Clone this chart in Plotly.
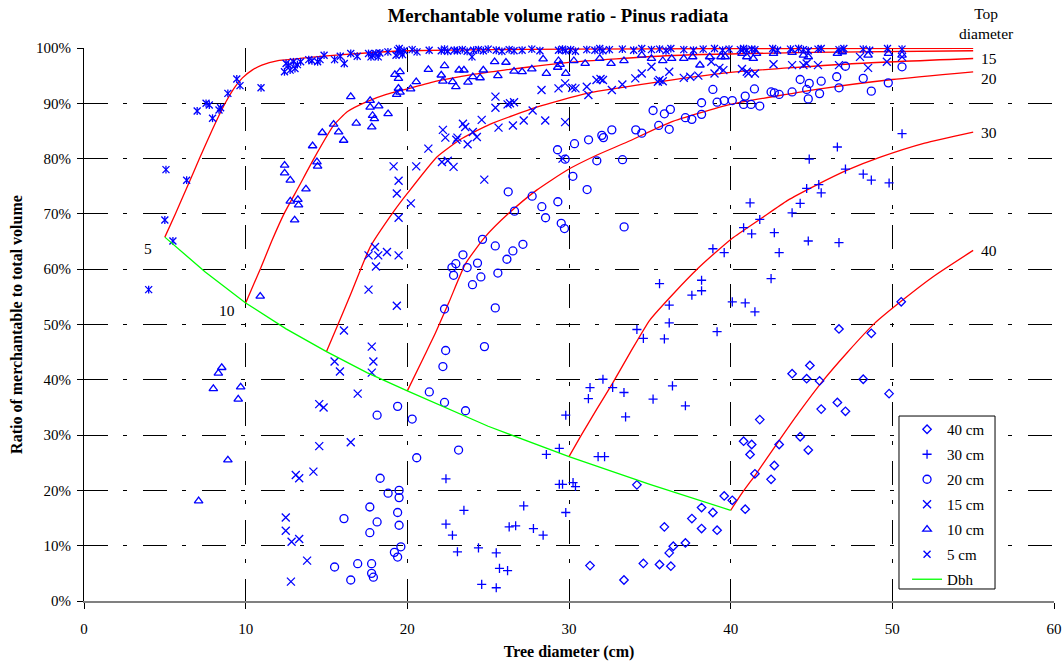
import plotly.graph_objects as go

# ---- observations: tree diameter (cm) and merchantable / total volume (%) ----
# top diameter 40 cm
d40 = [31.3, 33.4, 34.2, 34.6, 35.6, 35.9, 36.2, 36.3, 36.45, 37.2,
       37.6, 38.2, 38.2, 38.9, 39.16, 39.6, 40.1, 40.9, 40.8, 41.3,
       41.2, 41.5, 41.8, 42.7, 42.5, 43.0, 43.8, 44.3, 44.8, 44.7,
       44.9, 45.5, 45.6, 46.6, 47.1, 46.7, 48.2, 48.7, 49.8, 50.55]
r40 = [6.4, 3.8, 21.0, 6.8, 6.6, 13.4, 8.7, 6.3, 9.9, 10.5,
       14.9, 16.9, 13.1, 16.0, 12.8, 19.0, 18.2, 16.6, 28.9, 28.3,
       26.5, 23.0, 32.8, 24.5, 22.0, 28.3, 41.1, 29.7, 27.3, 40.2,
       42.6, 39.8, 34.7, 35.9, 34.3, 49.2, 40.1, 48.4, 37.5, 54.1]

# top diameter 30 cm
d30 = [22.39, 22.39, 22.79, 23.1, 23.5, 24.4, 24.6, 25.5, 25.7, 25.5,
       26.2, 26.3, 26.7, 27.2, 27.8, 28.4, 28.6, 29.4, 29.4, 29.6,
       30.25, 30.4, 29.8, 29.8, 31.3, 31.2, 32.1, 32.7, 31.8, 32.2,
       33.4, 33.5, 35.2, 36.4, 37.2, 34.2, 34.6, 35.9, 36.2, 39.16,
       35.6, 36.2, 37.6, 38.2, 38.2, 38.9, 39.6, 40.1, 40.9, 41.5,
       41.2, 40.8, 41.3, 41.8, 42.7, 42.5, 43.0, 43.8, 44.3, 44.7,
       44.8, 44.86, 45.45, 45.6, 46.6, 46.7, 47.1, 48.2, 48.7, 49.8,
       50.6]
r30 = [22.1, 13.9, 11.9, 8.9, 16.4, 9.6, 3.0, 8.7, 5.9, 2.4,
       5.5, 13.4, 13.6, 17.2, 13.1, 11.9, 26.5, 27.6, 21.1, 21.1,
       21.4, 20.7, 16.0, 33.6, 38.6, 36.6, 40.1, 38.6, 26.1, 26.1,
       37.7, 33.3, 36.5, 38.9, 35.3, 49.1, 47.5, 47.4, 50.3, 48.7,
       57.4, 53.5, 55.3, 58.0, 56.1, 63.7, 63.0, 54.1, 53.9, 52.3,
       72.0, 67.5, 66.4, 69.0, 66.6, 58.3, 63.0, 70.2, 71.9, 74.6,
       65.1, 79.9, 75.3, 73.8, 82.1, 64.8, 78.1, 77.2, 76.1, 75.6,
       84.5]

# top diameter 20 cm
d20 = [24.77, 22.37, 22.2, 21.36, 22.3, 23.6, 19.4, 20.3, 18.13, 23.17,
       20.58, 18.32, 18.81, 19.49, 19.49, 17.68, 19.4, 16.08, 18.13, 19.49,
       17.68, 19.6, 19.2, 19.4, 15.5, 16.93, 17.79, 17.79, 17.9, 16.5,
       22.3, 25.44, 24.03, 24.55, 22.86, 22.76, 23.0, 23.7, 23.44, 24.34,
       24.65, 25.6, 25.44, 26.16, 26.53, 27.15, 26.63, 26.24, 27.72, 28.32,
       28.55, 29.31, 29.52, 29.72, 29.29, 29.76, 30.24, 30.34, 31.12, 31.21,
       31.72, 32.03, 32.13, 32.65, 33.31, 33.41, 34.13, 34.5, 35.2, 35.55,
       35.9, 36.27, 36.2, 37.2, 37.6, 38.2, 38.2, 38.9, 39.16, 39.6,
       40.1, 40.8, 41.26, 40.9, 41.47, 41.8, 42.5, 42.7, 43.0, 43.8,
       44.3, 44.7, 44.8, 44.86, 45.5, 45.6, 46.56, 46.7, 47.1, 48.2,
       48.7, 49.75, 50.6]
r20 = [46.0, 45.3, 42.4, 37.8, 35.9, 34.4, 35.2, 32.9, 33.6, 27.3,
       25.9, 22.2, 19.5, 20.0, 18.7, 17.0, 16.0, 14.9, 14.3, 13.7,
       12.35, 9.8, 8.8, 7.95, 6.15, 6.75, 6.75, 5.0, 4.3, 3.8,
       52.8, 53.0, 57.2, 58.6, 58.9, 60.3, 61.0, 60.3, 62.6, 61.1,
       65.4, 59.3, 64.2, 61.8, 63.3, 64.5, 70.5, 74.0, 73.2, 71.3,
       69.3, 72.2, 68.3, 67.35, 81.6, 79.9, 76.8, 82.7, 74.4, 83.4,
       79.6, 84.2, 83.8, 85.2, 79.8, 67.65, 85.2, 84.6, 88.7, 86.0,
       88.1, 88.9, 85.3, 87.4, 87.1, 88.0, 90.1, 92.5, 90.2, 90.5,
       90.5, 89.8, 89.8, 91.3, 92.6, 89.5, 92.05, 91.9, 91.6, 92.05,
       94.3, 92.5, 90.8, 93.6, 91.75, 94.0, 94.8, 92.8, 96.7, 94.5,
       92.2, 93.7, 96.6]

# top diameter 15 cm
d15 = [12.8, 12.48, 12.48, 12.84, 13.31, 13.8, 13.1, 13.31, 14.19, 14.55,
       14.55, 14.82, 15.5, 15.83, 16.08, 16.5, 16.93, 17.8, 17.9, 17.8,
       17.6, 17.6, 18.0, 18.2, 18.06, 18.74, 19.46, 19.35, 19.15, 19.46,
       19.35, 19.46, 20.22, 20.55, 21.3, 22.2, 22.35, 22.14, 22.5, 22.86,
       23.03, 23.1, 23.44, 23.58, 23.73, 24.05, 24.3, 24.6, 24.76, 25.45,
       25.45, 25.64, 26.2, 26.35, 26.6, 26.53, 27.2, 27.75, 28.3, 28.53,
       29.35, 29.6, 29.76, 29.76, 30.2, 30.4, 31.1, 31.2, 31.7, 31.95,
       32.1, 32.65, 33.3, 34.1, 34.5, 35.1, 35.5, 35.6, 35.8, 36.2,
       37.1, 37.5, 38.0, 38.8, 39.0, 39.3, 39.55, 40.7, 41.0, 41.1,
       41.5, 42.65, 43.8, 44.5, 44.7, 45.4, 46.7, 48.0, 48.5, 49.66, 50.6]
r15 = [3.5, 15.1, 12.7, 10.7, 11.2, 7.3, 22.8, 22.2, 23.4, 28.0,
       35.6, 35.0, 43.3, 41.5, 48.9, 28.7, 37.5, 46.0, 43.3, 41.3,
       56.3, 62.5, 64.0, 62.5, 60.5, 63.1, 62.5, 53.4, 78.6, 76.0,
       73.7, 69.3, 71.9, 78.6, 81.8, 85.2, 83.8, 79.4, 79.6, 78.5,
       83.4, 83.8, 86.3, 85.7, 82.6, 84.8, 83.9, 87.0, 76.2, 91.2,
       89.2, 85.6, 89.8, 90.0, 90.2, 86.0, 86.9, 88.7, 92.4, 86.9,
       92.7, 80.0, 86.6, 93.6, 92.8, 92.7, 93.0, 91.5, 94.2, 94.4,
       94.2, 92.4, 93.4, 94.5, 95.4, 96.6, 93.9, 94.2, 94.0, 95.7,
       94.6, 94.8, 95.0, 97.5, 95.4, 96.4, 96.0, 96.2, 95.7, 95.4,
       95.4, 97.05, 96.9, 96.9, 97.2, 96.9, 96.9, 98.4, 96.4, 97.5, 98.4]

# top diameter 10 cm
d10 = [7.09, 8.0, 8.31, 8.52, 8.9, 9.54, 9.69, 10.9, 12.41, 12.41,
       12.76, 13.73, 12.76, 13.23, 13.27, 13.03, 14.41, 14.45, 14.14, 14.74,
       15.44, 15.75, 16.06, 16.5, 16.84, 17.7, 17.7, 17.85, 17.96, 17.8,
       18.23, 18.81, 19.23, 19.55, 19.45, 19.45, 19.55, 19.34, 20.2, 20.55,
       21.3, 22.1, 22.3, 22.2, 22.8, 23.0, 23.2, 23.5, 23.75, 24.05,
       24.5, 24.7, 25.4, 25.6, 26.1, 26.6, 27.1, 27.7, 28.4, 28.6,
       29.3, 29.35, 29.45, 29.8, 30.3, 31.0, 31.9, 32.6, 33.4, 34.5,
       35.1, 35.8, 36.35, 37.1, 37.65, 38.1, 38.7, 39.4, 39.66, 40.7,
       41.0, 41.4, 41.6, 42.65, 43.8, 44.5, 44.8, 46.6, 46.9, 48.5,
       49.76, 50.6]
r10 = [18.1, 38.4, 41.2, 42.2, 25.5, 36.5, 38.7, 55.1, 78.8, 77.4,
       76.1, 74.5, 72.3, 72.6, 71.6, 68.9, 79.4, 78.6, 82.3, 84.7,
       86.2, 84.8, 83.3, 91.2, 86.4, 90.5, 89.3, 87.8, 87.2, 85.7,
       89.5, 88.1, 95.2, 95.7, 94.5, 92.7, 92.0, 91.6, 92.6, 93.9,
       96.1, 95.1, 96.8, 94.0, 93.9, 93.0, 96.0, 96.0, 93.8, 94.8,
       94.6, 96.0, 97.5, 95.0, 97.4, 95.8, 95.7, 96.2, 98.0, 95.4,
       96.5, 97.7, 97.0, 95.4, 97.7, 97.2, 98.1, 97.2, 97.7, 98.7,
       98.1, 97.7, 98.1, 98.1, 98.4, 96.9, 98.4, 98.4, 98.4, 99.0,
       98.4, 98.1, 99.0, 99.0, 99.2, 98.7, 98.4, 99.0, 99.3, 98.7,
       99.0, 98.7]

# top diameter 5 cm
d5 = [4.0, 5.07, 5.0, 5.5, 6.35, 7.0, 7.55, 7.75, 7.95, 8.35,
      8.45, 8.9, 9.45, 9.65, 10.95, 12.4, 12.5, 12.65, 12.75, 12.95,
      13.05, 13.2, 13.4, 13.9, 14.1, 14.45, 14.6, 14.85, 15.5, 15.85,
      16.1, 16.5, 16.9, 17.6, 17.75, 17.85, 18.05, 18.2, 18.3, 18.8,
      19.3, 19.4, 19.5, 19.6, 19.7, 19.8, 20.3, 20.6, 21.35, 22.1,
      22.3, 22.5, 22.9, 23.1, 23.4, 23.7, 24.0, 24.1, 24.4, 24.7,
      25.0, 25.5, 25.85, 26.3, 26.6, 27.1, 27.7, 28.2, 29.35, 29.6,
      29.8, 30.1, 30.4, 31.1, 31.6, 31.9, 32.1, 32.5, 33.3, 34.0,
      34.5, 35.1, 35.6, 36.0, 36.3, 37.1, 37.7, 38.3, 39.0, 39.5,
      39.9, 40.6, 40.8, 41.0, 41.3, 41.5, 42.6, 42.9, 43.7, 44.2,
      44.5, 44.8, 45.4, 45.6, 46.7, 47.0, 48.2, 48.6, 49.7, 50.6]
r5 = [56.3, 78.0, 68.9, 65.1, 76.1, 88.6, 90.0, 89.7, 87.3, 88.8,
      89.2, 91.8, 94.4, 93.2, 92.8, 95.7, 97.2, 96.9, 96.0, 97.5,
      96.3, 97.0, 97.5, 97.9, 97.7, 97.5, 97.9, 98.7, 97.9, 98.5,
      97.2, 99.0, 98.5, 99.0, 98.4, 98.7, 99.0, 98.4, 99.1, 99.3,
      98.7, 99.6, 99.9, 99.2, 98.8, 99.5, 99.7, 99.3, 99.6, 99.5,
      99.8, 99.4, 99.6, 99.5, 99.7, 99.4, 98.4, 99.6, 99.7, 99.5,
      99.8, 99.6, 99.4, 99.7, 99.5, 99.6, 99.8, 99.5, 99.6, 99.8,
      99.5, 99.7, 99.4, 99.7, 99.6, 99.9, 99.5, 99.7, 99.8, 99.6,
      99.9, 99.7, 99.8, 99.5, 99.9, 99.7, 99.6, 99.8, 99.9, 99.6,
      99.8, 99.7, 99.9, 99.6, 99.8, 99.7, 99.9, 99.6, 99.8, 99.9,
      99.7, 99.5, 99.8, 99.9, 99.7, 99.9, 99.8, 99.6, 99.9, 99.8]

# ---- fitted ratio curves for each top diameter ----
c5_d = [5, 5.65, 6.4, 7.14, 7.9, 8.73, 9.3, 9.8, 10.4, 11, 12, 13, 14, 16, 18, 20, 25, 30, 40, 55]
c5_r = [65.8, 70, 75, 80, 85, 90, 92.8, 94.6, 96.0, 96.9, 97.7, 98.0, 98.3, 98.8, 99.2, 99.5, 99.7, 99.8, 99.9, 99.95]

c10_d = [10, 10.9, 11.6, 12.37, 13.3, 14.22, 15.44, 16.3, 17.5, 18.7, 20, 21.8, 24, 26, 30, 36, 45, 55]
c10_r = [53.9, 60, 65, 70, 75, 80, 86, 88.5, 90.3, 91.6, 92.6, 94.0, 95.2, 96.0, 97.4, 98.6, 99.2, 99.5]

c15_d = [15, 15.65, 16.5, 17.7, 19.15, 20, 21.83, 23.3, 25.1, 28, 31.1, 36.3, 40, 47.8, 55]
c15_r = [45.1, 49.6, 55.5, 64, 70.4, 73.7, 80.3, 83.5, 86.2, 89.3, 91.8, 94.2, 95.6, 97.2, 98.1]

c20_d = [20, 21, 21.73, 22.6, 23.6, 24.8, 26.27, 28, 29.87, 31.7, 33.6, 36.3, 40, 45.75, 50, 55]
c20_r = [38, 44, 48.4, 54.2, 61, 65.8, 70.1, 74.3, 77.9, 80.6, 83, 86.6, 89.8, 92.7, 94.3, 95.7]

c30_d = [30, 30.76, 31.7, 32.68, 33.8, 35, 36.5, 38, 38.9, 40.1, 41.9, 43.5, 45.3, 47.2, 49.3, 52, 55]
c30_r = [26.1, 30, 34.6, 39.3, 45, 50.8, 55.7, 60.2, 62.6, 65.6, 69.2, 72.4, 75.2, 77.9, 80.3, 82.8, 84.8]

c40_d = [40, 40.7, 41.6, 42.9, 44.2, 45.7, 47.2, 48.9, 50.5, 52.5, 55]
c40_r = [16.4, 19.5, 23.1, 28.6, 34.0, 39.8, 44.9, 50.2, 54.1, 58.6, 63.4]

# ratio when the top diameter equals the dbh
dbh_d = [5, 7.5, 10, 12.5, 15, 17.5, 20, 25, 30, 35, 40]
dbh_r = [65.8, 59.5, 53.9, 49.2, 45.1, 41.3, 38.0, 31.6, 26.1, 21.1, 16.4]

x_ticks = [0, 10, 20, 30, 40, 50, 60]
y_ticks = [0, 10, 20, 30, 40, 50, 60, 70, 80, 90, 100]

BLUE = "#0000FF"
RED = "#FF0000"
GREEN = "#00FF00"
FONT = "Liberation Serif"
GRID_DASH = "24px,15px,4px,16px"

fig = go.Figure()

# red fitted curves (drawn first, below the points)
for cd, cr in [(c5_d, c5_r), (c10_d, c10_r), (c15_d, c15_r),
               (c20_d, c20_r), (c30_d, c30_r), (c40_d, c40_r)]:
    fig.add_trace(go.Scatter(x=cd, y=cr, mode="lines", showlegend=False,
                             line=dict(color=RED, width=1.3, shape="spline", smoothing=0.5),
                             hoverinfo="skip"))


def pts(x, y, name, symbol, size, group, show=True):
    return go.Scatter(x=x, y=y, mode="markers", name=name, legendgroup=group,
                      showlegend=show, cliponaxis=False,
                      marker=dict(symbol=symbol, size=size, color=BLUE,
                                  line=dict(width=1.3, color=BLUE)))


fig.add_trace(pts(d40, r40, "40 cm", "diamond-open", 6.5, "g40"))
fig.add_trace(pts(d30, r30, "30 cm", "cross-thin-open", 6.5, "g30"))
fig.add_trace(pts(d20, r20, "20 cm", "circle-open", 8, "g20"))
fig.add_trace(pts(d15, r15, "15 cm", "x-thin-open", 8, "g15"))
fig.add_trace(pts(d10, r10, "10 cm", "triangle-up-open", 7.5, "g10"))
fig.add_trace(pts(d5, r5, "5 cm", "x-thin-open", 7, "g5"))
# vertical stroke completing the star symbol of the 5 cm series
fig.add_trace(pts(d5, r5, "5 cm", "line-ns-open", 5.6, "g5", show=False))

fig.add_trace(go.Scatter(x=dbh_d, y=dbh_r, mode="lines", name="Dbh", legendgroup="gdbh",
                         line=dict(color=GREEN, width=1.3)))

# curve labels
ann_font = dict(family=FONT, size=15.5, color="black")
annotations = [
    dict(x=3.96, y=63.7, text="5", xref="x", yref="y", showarrow=False, font=ann_font),
    dict(x=8.84, y=52.6, text="10", xref="x", yref="y", showarrow=False, font=ann_font),
    dict(x=c15_d[-1] + 1.0, y=c15_r[-1], text="15", xref="x", yref="y", showarrow=False, font=ann_font),
    dict(x=c20_d[-1] + 1.0, y=c20_r[-1], yshift=-7, text="20", xref="x", yref="y",
         showarrow=False, font=ann_font),
    dict(x=c30_d[-1] + 1.0, y=c30_r[-1], text="30", xref="x", yref="y", showarrow=False, font=ann_font),
    dict(x=c40_d[-1] + 1.0, y=c40_r[-1], text="40", xref="x", yref="y", showarrow=False, font=ann_font),
    dict(x=0.930, y=1.045, text="Top<br>diameter", xref="paper", yref="paper",
         xanchor="center", yanchor="middle", showarrow=False, font=ann_font),
]

fig.update_layout(
    width=1062, height=661,
    margin=dict(l=84, r=8, t=48, b=60, autoexpand=False),
    paper_bgcolor="white", plot_bgcolor="white",
    font=dict(family=FONT, size=15, color="black"),
    title=dict(text="Merchantable volume ratio - Pinus radiata",
               xref="container", x=0.5254, xanchor="center",
               yref="container", y=1 - 15 / 661, yanchor="middle",
               font=dict(family=FONT, size=18.7, color="black", weight="bold")),
    annotations=annotations,
    shapes=[dict(type="rect", xref="paper", yref="paper",
                 x0=0.8402, x1=0.9392, y0=0.0217, y1=0.3345,
                 fillcolor="white", line=dict(color="black", width=1), layer="above")],
    legend=dict(x=0.8485, xanchor="left", y=0.340, yanchor="top",
                bgcolor="rgba(0,0,0,0)", borderwidth=0,
                font=dict(family=FONT, size=15, color="black"),
                tracegroupgap=2.5, traceorder="grouped"),
    showlegend=True,
)

fig.update_xaxes(
    range=[0, 60], tickvals=x_ticks, ticktext=[str(v) for v in x_ticks],
    automargin=False,
    showgrid=True, gridcolor="black", gridwidth=1, griddash=GRID_DASH,
    showline=True, linecolor="#808080", linewidth=2,
    ticks="outside", ticklen=6, tickcolor="black", tickwidth=1,
    zeroline=False, ticklabelstandoff=7,
    tickfont=dict(family=FONT, size=15, color="black"),
    title=dict(text="Tree diameter (cm)", standoff=16,
               font=dict(family=FONT, size=16, color="black", weight="bold")),
)
fig.update_yaxes(
    range=[0, 100], tickvals=y_ticks, ticktext=[f"{v}%" for v in y_ticks],
    automargin=False,
    showgrid=True, gridcolor="black", gridwidth=1, griddash=GRID_DASH,
    showline=True, linecolor="black", linewidth=1,
    ticks="outside", ticklen=6, tickcolor="black", tickwidth=1,
    zeroline=False, ticklabelstandoff=3,
    tickfont=dict(family=FONT, size=15, color="black"),
    title=dict(text="Ratio of merchantable to total volume", standoff=9,
               font=dict(family=FONT, size=16, color="black", weight="bold")),
)

fig.write_html("out.html")
